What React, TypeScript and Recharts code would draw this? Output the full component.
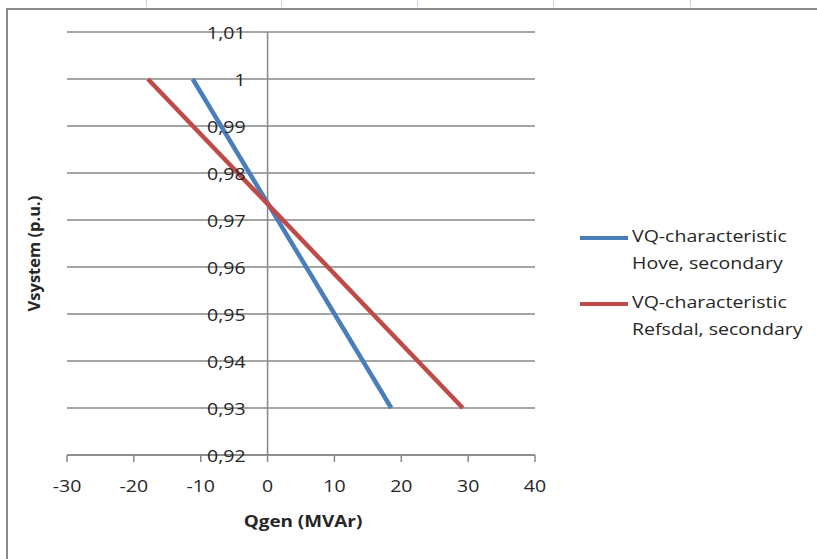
import React from 'react';
import { LineChart, Line, XAxis, YAxis, CartesianGrid, ReferenceLine } from 'recharts';

// Qgen (MVAr) vs Vsystem (p.u.)
const hoveQ = [-11.2, 18.5];
const hoveV = [1.0, 0.93];
const refsdalQ = [-17.9, 29.2];
const refsdalV = [1.0, 0.93];

const xTicks = [-30, -20, -10, 0, 10, 20, 30, 40];
const yTicks = [0.92, 0.93, 0.94, 0.95, 0.96, 0.97, 0.98, 0.99, 1.0, 1.01];

const seriesNames = ['VQ-characteristic Hove, secondary', 'VQ-characteristic Refsdal, secondary'];
const seriesColors = ['#4A7EBB', '#BE4B48'];

const hoveData = hoveQ.map((q, i) => ({ q, v: hoveV[i] }));
const refsdalData = refsdalQ.map((q, i) => ({ q, v: refsdalV[i] }));

const W = 817;
const H = 559;
const PLOT_LEFT = 67;
const PLOT_WIDTH = 468;
const X_MIN = -30;
const X_MAX = 40;
const zeroX = PLOT_LEFT + ((0 - X_MIN) / (X_MAX - X_MIN)) * PLOT_WIDTH;

const FONT = '"Open Sans", "Noto Sans", sans-serif';
const GRID = '#878787';
const TEXT = '#262626';
// the original text is a bit wider than it is tall
const STRETCH = 1.22;

const YTick = (props: any) => {
  const { y, payload } = props;
  return (
    <text
      transform={`translate(${zeroX - 22} ${y + 7}) scale(${STRETCH} 1)`}
      textAnchor="end"
      fontFamily={FONT}
      fontSize={16}
      fill={TEXT}
    >
      {String(payload.value).replace('.', ',')}
    </text>
  );
};

const XTick = (props: any) => {
  const { x, y, payload } = props;
  return (
    <text
      transform={`translate(${x} ${y + 12}) scale(${STRETCH} 1)`}
      textAnchor="middle"
      fontFamily={FONT}
      fontSize={16}
      fill={TEXT}
    >
      {payload.value}
    </text>
  );
};

const XLabel = (props: any) => {
  const { viewBox } = props;
  const cx = viewBox.x + viewBox.width / 2 + 2;
  return (
    <text
      transform={`translate(${cx} 527) scale(${STRETCH} 1)`}
      textAnchor="middle"
      fontFamily={FONT}
      fontSize={15.5}
      fontWeight="bold"
      fill={TEXT}
    >
      Qgen (MVAr)
    </text>
  );
};

const YLabel = (props: any) => {
  const { viewBox } = props;
  const cx = 33;
  const cy = viewBox.y + viewBox.height / 2 + 10;
  return (
    <text
      x={cx}
      y={cy}
      transform={`rotate(-90 ${cx} ${cy})`}
      textAnchor="middle"
      dominantBaseline="central"
      fontFamily={FONT}
      fontSize={16.5}
      fontWeight="bold"
      fill={TEXT}
    >
      Vsystem (p.u.)
    </text>
  );
};

const LegendBox = () => (
  <div
    style={{
      position: 'absolute',
      left: 580,
      top: 223,
      width: 235,
      fontFamily: FONT,
      fontSize: 16,
      color: TEXT,
      lineHeight: '27px',
    }}
  >
    {seriesNames.map((name, i) => {
      const [first, ...rest] = name.split(' ');
      return (
        <div key={name} style={{ display: 'flex', alignItems: 'flex-start', marginBottom: i === 0 ? 12 : 0 }}>
          <div style={{ width: 48, height: 4, background: seriesColors[i], marginTop: 13, marginRight: 4 }} />
          <div style={{ transform: `scaleX(${STRETCH})`, transformOrigin: 'left center', whiteSpace: 'nowrap' }}>
            <div>{first}</div>
            <div>{rest.join(' ')}</div>
          </div>
        </div>
      );
    })}
  </div>
);

const topMarks = [146, 281, 417, 553, 690];

export default function App() {
  return (
    <div style={{ position: 'absolute', left: 0, top: 0, width: W, height: H, background: '#fff' }}>
      {topMarks.map((x) => (
        <div key={x} style={{ position: 'absolute', left: x, top: 0, width: 1, height: 7, background: '#c9d3ee' }} />
      ))}
      <div
        style={{
          position: 'absolute',
          left: 6,
          top: 8,
          width: W - 6,
          height: H - 8,
          borderTop: '2px solid #8c8c8c',
          borderLeft: '2px solid #8c8c8c',
          boxSizing: 'border-box',
        }}
      />
      <div style={{ position: 'absolute', left: 0, top: 0 }}>
        <LineChart width={W} height={H} margin={{ top: 32, right: 282, bottom: 34, left: 7 }}>
          <CartesianGrid vertical={false} stroke={GRID} strokeWidth={1.5} />
          <XAxis
            type="number"
            dataKey="q"
            domain={[X_MIN, X_MAX]}
            ticks={xTicks}
            allowDataOverflow
            height={70}
            stroke={GRID}
            strokeWidth={1.5}
            tickSize={7}
            tickMargin={18}
            tick={XTick}
            label={{ content: XLabel }}
          />
          <YAxis
            type="number"
            dataKey="v"
            domain={[0.92, 1.01]}
            ticks={yTicks}
            allowDataOverflow
            width={60}
            axisLine={false}
            tickLine={false}
            tick={YTick}
            label={{ content: YLabel }}
          />
          <ReferenceLine x={0} stroke={GRID} strokeWidth={1.5} />
          <Line
            data={hoveData}
            dataKey="v"
            name={seriesNames[0]}
            stroke={seriesColors[0]}
            strokeWidth={4.5}
            dot={false}
            activeDot={false}
            isAnimationActive={false}
          />
          <Line
            data={refsdalData}
            dataKey="v"
            name={seriesNames[1]}
            stroke={seriesColors[1]}
            strokeWidth={4.5}
            dot={false}
            activeDot={false}
            isAnimationActive={false}
          />
        </LineChart>
      </div>
      <LegendBox />
    </div>
  );
}
